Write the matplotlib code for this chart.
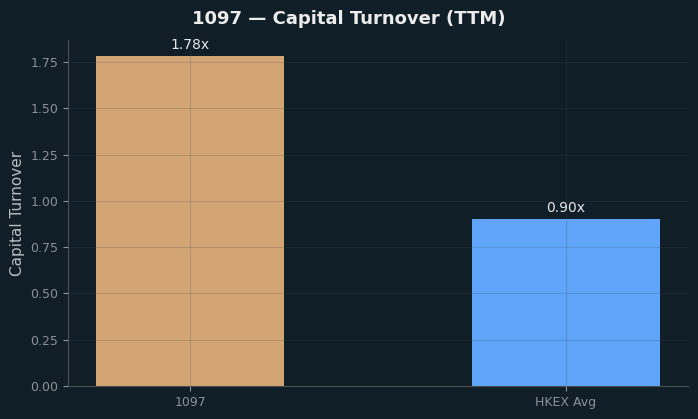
import matplotlib
matplotlib.use("Agg")
import matplotlib.pyplot as plt

categories = ["1097", "HKEX Avg"]
values = [1.78, 0.90]
labels = ["1.78x", "0.90x"]
colors = ["#d4a574", "#60a5fa"]

bg = "#101f27"
fig = plt.figure(figsize=(6.98, 4.19), dpi=100, facecolor=bg)
ax = fig.add_axes([0.0974, 0.0788, 0.8883, 0.8257])
ax.set_facecolor(bg)

x = list(range(len(categories)))
bars = ax.bar(x, values, width=0.5, color=colors, zorder=1)
ax.set_xticks(x)
ax.set_xticklabels(categories)
ax.set_ylim(0, max(values) * 1.05)

for xi, v, lab in zip(x, values, labels):
    ax.annotate(lab, (xi, v), xytext=(0, 3.5), textcoords="offset points",
                ha="center", va="bottom", color="#e6e6e6", fontsize=10)

ax.grid(True, color="#3a4c54", alpha=0.22, linewidth=0.8)
ax.set_axisbelow(False)
for s in ["top", "right"]:
    ax.spines[s].set_visible(False)
for s in ["left", "bottom"]:
    ax.spines[s].set_color("#4a4f52")
ax.tick_params(colors="#8a9096", labelsize=9)
ax.set_ylabel("Capital Turnover", color="#b8bcbf", fontsize=11)
fig.suptitle("1097 — Capital Turnover (TTM)", color="#ececec", fontsize=13,
             fontweight="bold", y=0.975)

fig.savefig("out.png", dpi=100, facecolor=bg)
